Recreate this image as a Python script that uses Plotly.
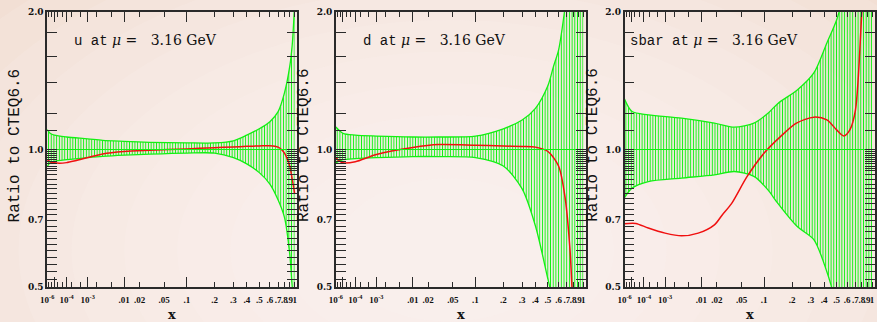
import numpy as np
import plotly.graph_objects as go

# ---------------- data: ratio of PDF to CTEQ6.6 at mu = 3.16 GeV ----------------
PARTONS = ["u", "d", "sbar"]

U_X = [1e-6, 3e-6, 1e-5, 1e-4, 1e-3, 3e-3, 0.01, 0.03, 0.1, 0.2, 0.3, 0.4, 0.5, 0.6, 0.7, 0.8, 0.9, 0.95, 1.0]
U_UPPER = [1.105, 1.085, 1.075, 1.065, 1.055, 1.047, 1.042, 1.037, 1.034, 1.034, 1.045, 1.075, 1.11, 1.15, 1.21, 1.33, 1.52, 1.70, 2.10]
U_LOWER = [0.918, 0.935, 0.942, 0.950, 0.960, 0.966, 0.972, 0.977, 0.982, 0.982, 0.960, 0.930, 0.890, 0.840, 0.775, 0.710, 0.590, 0.500, 0.450]
U_CX = [1e-6, 3e-6, 1e-5, 3e-5, 1e-4, 3e-4, 1e-3, 3e-3, 0.01, 0.03, 0.1, 0.2, 0.3, 0.4, 0.5, 0.6, 0.7, 0.75, 0.8, 0.85, 0.9, 0.95, 1.0]
U_CENTRAL = [0.950, 0.940, 0.935, 0.933, 0.936, 0.945, 0.960, 0.978, 0.990, 0.996, 1.003, 1.009, 1.013, 1.016, 1.018, 1.019, 1.012, 1.000, 0.982, 0.955, 0.920, 0.860, 0.800]

D_X = [1e-6, 1e-5, 1e-4, 1e-3, 0.01, 0.03, 0.1, 0.2, 0.3, 0.4, 0.5, 0.55, 0.6, 0.67, 0.75, 0.85, 1.0]
D_UPPER = [1.12, 1.085, 1.075, 1.07, 1.065, 1.065, 1.07, 1.11, 1.16, 1.23, 1.38, 1.52, 1.65, 2.0, 2.5, 3.0, 3.5]
D_LOWER = [0.935, 0.950, 0.955, 0.960, 0.965, 0.965, 0.960, 0.920, 0.820, 0.680, 0.520, 0.460, 0.400, 0.330, 0.280, 0.250, 0.200]
D_CX = [1e-6, 3e-6, 1e-5, 1e-4, 1e-3, 0.01, 0.03, 0.1, 0.2, 0.3, 0.4, 0.5, 0.6, 0.68, 0.75, 0.78, 0.85]
D_CENTRAL = [0.960, 0.945, 0.935, 0.940, 0.975, 1.010, 1.025, 1.022, 1.018, 1.015, 1.012, 0.990, 0.920, 0.780, 0.600, 0.500, 0.350]

S_X = [1e-6, 1.1e-5, 1.8e-4, 3.3e-3, 0.018, 0.039, 0.074, 0.11, 0.14, 0.224, 0.32, 0.42, 0.5, 0.6, 1.0]
S_UPPER = [1.290, 1.211, 1.191, 1.171, 1.142, 1.119, 1.142, 1.200, 1.260, 1.350, 1.471, 1.711, 1.921, 2.30, 3.00]
S_LOWER = [0.785, 0.823, 0.851, 0.866, 0.880, 0.895, 0.873, 0.816, 0.763, 0.678, 0.635, 0.540, 0.460, 0.400, 0.300]
S_CX = [1e-6, 2.5e-5, 1.8e-4, 1e-3, 3.3e-3, 8.5e-3, 0.018, 0.025, 0.035, 0.06, 0.1, 0.15, 0.22, 0.32, 0.42, 0.5, 0.565, 0.63, 0.7, 0.8, 0.85]
S_CENTRAL = [0.688, 0.689, 0.673, 0.656, 0.647, 0.656, 0.684, 0.720, 0.760, 0.873, 0.982, 1.067, 1.142, 1.177, 1.161, 1.104, 1.071, 1.104, 1.221, 2.000, 2.500]

# axis labels
X_LABEL_VALS = [1e-6, 1e-4, 1e-3, 0.01, 0.02, 0.05, 0.1, 0.2, 0.3, 0.4, 0.5, 0.6, 0.7, 0.8, 0.9, 1.0]
X_LABEL_TEXT = ["10<sup>-6</sup>", "10<sup>-4</sup>", "10<sup>-3</sup>", ".01", ".02", ".05", ".1",
                ".2", ".3", ".4", ".5", ".6", ".7", ".8", ".9", "1"]
X_MINOR_VALS = [2e-6, 5e-6, 1e-5, 2e-5, 5e-5, 2e-4, 5e-4, 2e-3, 5e-3]
X_DECADES = [1e-6, 1e-5, 1e-4, 1e-3, 0.01, 0.1]
Y_MAJOR_VALS = [0.5, 0.6, 0.7, 0.8, 0.9, 1.0, 1.2, 1.4, 1.6, 1.8, 2.0]
Y_MAJOR_TEXT = ["0.5", "", "0.7", "", "", "1.0", "", "", "", "", "2.0"]

# ---------------- horizontal scale ----------------
# power law in x below 0.1, logarithmic interpolation in the valence region
SCALE_POWER = 0.236
SCALE_X0 = 1e-6
SCALE_HI_X = [0.1, 0.2, 0.3, 0.4, 0.5, 0.6, 0.7, 0.8, 0.9, 1.0]
SCALE_HI_T = [0.5640, 0.6766, 0.7527, 0.8064, 0.8569, 0.8998, 0.9331, 0.9587, 0.9800, 1.0]


def xs(x):
    x = np.asarray(x, dtype=float)
    lo = (x ** SCALE_POWER - SCALE_X0 ** SCALE_POWER) / (1.0 - SCALE_X0 ** SCALE_POWER)
    hi = np.interp(np.log10(x), np.log10(SCALE_HI_X), SCALE_HI_T)
    return np.where(x <= 0.1, lo, hi)


# ---------------- layout geometry ----------------
W, H = 877, 322
MT, MB = 12, 35
PLOT_H = H - MT - MB
T_MAX = 1.010
PANEL_LEFT = [40.5, 331.5, 622.5]     # pixel position of x = 1e-6
PANEL_W = 252.0

GREEN = "#13f013"
RED = "#f01010"
AXC = "#2a2a2a"

panels = [
    (U_X, U_UPPER, U_LOWER, U_CX, U_CENTRAL),
    (D_X, D_UPPER, D_LOWER, D_CX, D_CENTRAL),
    (S_X, S_UPPER, S_LOWER, S_CX, S_CENTRAL),
]

fig = go.Figure()


def ax_name(kind, i):
    return kind if i == 0 else f"{kind}{i + 1}"


for i, (bx, up, lo, cx, cen) in enumerate(panels):
    xa = ax_name("x", i)
    ya = ax_name("y", i)
    xo = f"x{i + 4}"
    # lower edge of the uncertainty band
    fig.add_trace(go.Scatter(x=xs(bx), y=lo, mode="lines", xaxis=xa, yaxis=ya,
                             line=dict(color=GREEN, width=1.3, shape="spline", smoothing=0.8),
                             hoverinfo="skip", showlegend=False))
    # upper edge, hatched fill down to the lower edge
    fig.add_trace(go.Scatter(x=xs(bx), y=up, mode="lines", xaxis=xa, yaxis=ya,
                             line=dict(color=GREEN, width=1.3, shape="spline", smoothing=0.8),
                             fill="tonexty", fillcolor="rgba(0,0,0,0)",
                             fillpattern=dict(shape="|", fgcolor=GREEN, bgcolor="rgba(0,0,0,0)",
                                              size=2.7, solidity=0.38, fillmode="replace"),
                             hoverinfo="skip", showlegend=False))
    # unit ratio line
    fig.add_trace(go.Scatter(x=xs([SCALE_X0, 1.0]), y=[1.0, 1.0], mode="lines", xaxis=xo, yaxis=ya,
                             line=dict(color=GREEN, width=1.2), hoverinfo="skip", showlegend=False))
    # central fit
    fig.add_trace(go.Scatter(x=xs(cx), y=cen, mode="lines", xaxis=xa, yaxis=ya,
                             line=dict(color=RED, width=1.5, shape="spline", smoothing=0.8),
                             hoverinfo="skip", showlegend=False))

xtickfont = dict(family="Liberation Serif", size=9, color="#111111", weight="bold")
ytickfont = dict(family="DejaVu Serif", size=9, color="#111111", weight="bold")
layout = dict(width=W, height=H, margin=dict(l=0, r=0, t=MT, b=MB),
              paper_bgcolor="#eed8c9", plot_bgcolor="rgba(0,0,0,0)", showlegend=False)

for i in range(3):
    x0 = PANEL_LEFT[i] / W
    x1 = (PANEL_LEFT[i] + PANEL_W) / W
    ya = ax_name("y", i)
    base_x = dict(domain=[x0, x1], range=[0, T_MAX], anchor=ya, showgrid=False, zeroline=False,
                  showline=True, linecolor=AXC, linewidth=1.5, mirror="allticks",
                  ticks="inside", ticklen=5, tickwidth=1, tickcolor=AXC,
                  tickmode="array", tickvals=xs(X_LABEL_VALS), ticktext=X_LABEL_TEXT,
                  tickfont=xtickfont, tickangle=0, ticklabelstandoff=3,
                  minor=dict(tickmode="array", tickvals=xs(X_MINOR_VALS), ticks="inside",
                             ticklen=5, tickwidth=1, tickcolor=AXC, showgrid=False))
    layout["xaxis" if i == 0 else f"xaxis{i + 1}"] = base_x
    # longer ticks at the decades
    layout[f"xaxis{i + 4}"] = dict(overlaying=ax_name("x", i), range=[0, T_MAX], anchor=ya,
                                   showgrid=False, zeroline=False, showline=True, linecolor=AXC,
                                   linewidth=1.5, mirror="allticks", ticks="inside", ticklen=10,
                                   tickwidth=1, tickcolor=AXC, tickmode="array",
                                   tickvals=xs(X_DECADES), showticklabels=False, side="bottom")
    minor_y = ([0.52, 0.54, 0.56, 0.58, 0.62, 0.64, 0.66, 0.68, 0.72, 0.74, 0.76, 0.78,
                0.82, 0.84, 0.86, 0.88] + [0.91, 0.92, 0.93, 0.94, 0.95, 0.96, 0.97, 0.98, 0.99] + [1.1])
    layout["yaxis" if i == 0 else f"yaxis{i + 1}"] = dict(
        type="log", range=[np.log10(0.5), np.log10(2.0)], domain=[0, 1], anchor=ax_name("x", i),
        showgrid=False, zeroline=False, showline=True, linecolor=AXC, linewidth=1.5,
        mirror="allticks", ticks="inside", ticklen=10, tickwidth=1, tickcolor=AXC,
        tickmode="array", tickvals=Y_MAJOR_VALS, ticktext=Y_MAJOR_TEXT, tickfont=ytickfont,
        minor=dict(tickmode="array", tickvals=minor_y, ticks="inside", ticklen=4, tickwidth=1,
                   tickcolor=AXC, showgrid=False))

fig.update_layout(**layout)


def px_to_paper(px, py):
    return px / W, (H - MB - py) / PLOT_H


# soft radial glow in the page background
shapes = []
for k in range(12):
    f = 1.0 - k / 12.0
    rx, ry = 60 + 640 * f, 40 + 380 * f
    cx, cy = 445, 250
    xa0, ya0 = px_to_paper(cx - rx, cy + ry)
    xa1, ya1 = px_to_paper(cx + rx, cy - ry)
    shapes.append(dict(type="circle", xref="paper", yref="paper", x0=xa0, x1=xa1, y0=ya0, y1=ya1,
                       fillcolor="rgba(255,251,246,0.13)", line=dict(width=0), layer="below"))
fig.update_layout(shapes=shapes)

annotations = []
for i, name in enumerate(PARTONS):
    left = PANEL_LEFT[i]
    # panel title
    tx, ty = px_to_paper(left + 25 - (22 if name == "sbar" else 0), 40)
    annotations.append(dict(
        x=tx, y=ty, xref="paper", yref="paper", xanchor="left", yanchor="middle", showarrow=False,
        text=(f'<span style="font-family:Liberation Mono">{name} at</span> '
              f'<i>μ</i> =&nbsp;&nbsp; 3.16 GeV'),
        font=dict(family="DejaVu Serif", size=14, color="#111111")))
    # vertical axis title
    vx, vy = px_to_paper(left - 32, 145)
    annotations.append(dict(x=vx, y=vy, xref="paper", yref="paper", xanchor="center", yanchor="middle",
                            showarrow=False, textangle=-90, text="Ratio to CTEQ6.6",
                            font=dict(family="Liberation Mono", size=16, color="#111111")))
    # horizontal axis title
    hx, hy = px_to_paper(left + 126, 314)
    annotations.append(dict(x=hx, y=hy, xref="paper", yref="paper", xanchor="center", yanchor="middle",
                            showarrow=False, text="x",
                            font=dict(family="DejaVu Serif", size=13, color="#111111", weight="bold")))
fig.update_layout(annotations=annotations)

fig.write_html("out.html")
